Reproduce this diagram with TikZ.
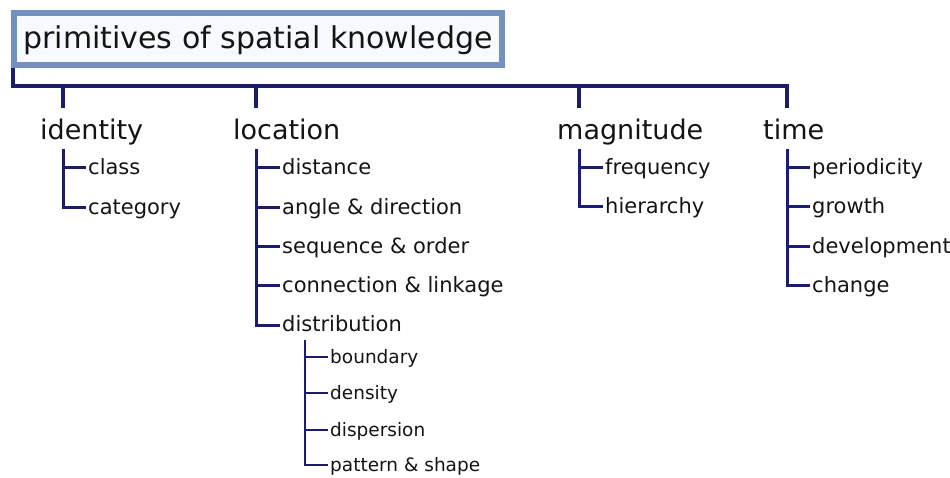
\documentclass[tikz,border=0pt]{standalone}
\usepackage{fontspec}
\setmainfont{DejaVu Sans}
\begin{document}
\definecolor{boxblue}{RGB}{115,145,190}
\definecolor{boxfill}{RGB}{246,249,253}
\definecolor{navy}{RGB}{28,28,104}
\definecolor{ink}{RGB}{20,20,20}
\tikzset{
  titlebox/.style={draw=boxblue, fill=boxfill, line width=6pt, inner sep=0pt,
    minimum width=488pt, minimum height=52pt, text height=25pt, text depth=5pt,
    font=\fontsize{30}{30}\selectfont, text=ink},
  cat/.style={anchor=base west, inner sep=0pt, font=\fontsize{27}{27}\selectfont, text=ink},
  leaf/.style={anchor=west, inner sep=0pt, text height=13.5pt, text depth=0pt,
    font=\fontsize{21}{21}\selectfont, text=ink},
  leafsm/.style={leaf, text height=12pt, font=\fontsize{18.5}{18.5}\selectfont},
  trunk/.style={draw=navy, line width=3.6pt, line join=miter},
  branch/.style={draw=navy, line width=3pt, line join=miter},
  twig/.style={draw=navy, line width=2.8pt, line join=miter}
}
\begin{tikzpicture}[x=1pt, y=-1pt]
\useasboundingbox (0,0) rectangle (950,478);

% root
\node[titlebox] (title) at (258,39) {primitives of spatial knowledge};

% categories
\node[cat] (identity)  at (40,140)  {identity};
\node[cat] (location)  at (233,140) {location};
\node[cat] (magnitude) at (557,140) {magnitude};
\node[cat] (time)      at (763,140) {time};

% tick tops on the main bar
\coordinate (bar)   at (13,86);
\coordinate (idtop) at (63,108);
\coordinate (lotop) at (256,108);
\coordinate (mgtop) at (579,108);
\coordinate (tmtop) at (787,108);

\draw[trunk] ([xshift=2pt]title.south west) |- (tmtop |- bar) -- (tmtop);
\draw[trunk] (idtop |- bar) -- (idtop);
\draw[trunk] (lotop |- bar) -- (lotop);
\draw[trunk] (mgtop |- bar) -- (mgtop);

% identity
\node[leaf] (class)    at (88,168) {class};
\node[leaf] (category) at (88,208) {category};
\coordinate (idstem) at (63,149);
\draw[branch] (idstem) |- ([xshift=-2pt]category.west);
\draw[branch] (idstem |- class.west) -- ([xshift=-2pt]class.west);

% location
\node[leaf] (distance)     at (282,168) {distance};
\node[leaf] (angle)        at (282,208) {angle \& direction};
\node[leaf] (sequence)     at (282,247) {sequence \& order};
\node[leaf] (connection)   at (282,286) {connection \& linkage};
\node[leaf] (distribution) at (282,325) {distribution};
\coordinate (lostem) at (256,149);
\draw[branch] (lostem) |- ([xshift=-2pt]distribution.west);
\foreach \n in {distance,angle,sequence,connection}
  \draw[branch] (lostem |- \n.west) -- ([xshift=-2pt]\n.west);

% distribution
\node[leafsm] (boundary)   at (330,357) {boundary};
\node[leafsm] (density)    at (330,393) {density};
\node[leafsm] (dispersion) at (330,430) {dispersion};
\node[leafsm] (pattern)    at (330,465) {pattern \& shape};
\coordinate (dsstem) at (305,340);
\draw[twig] (dsstem) |- ([xshift=-2pt]pattern.west);
\foreach \n in {boundary,density,dispersion}
  \draw[twig] (dsstem |- \n.west) -- ([xshift=-2pt]\n.west);

% magnitude
\node[leaf] (frequency) at (605,168) {frequency};
\node[leaf] (hierarchy) at (605,207) {hierarchy};
\coordinate (mgstem) at (579,149);
\draw[branch] (mgstem) |- ([xshift=-2pt]hierarchy.west);
\draw[branch] (mgstem |- frequency.west) -- ([xshift=-2pt]frequency.west);

% time
\node[leaf] (periodicity) at (812,168) {periodicity};
\node[leaf] (growth)      at (812,207) {growth};
\node[leaf] (development) at (812,247) {development};
\node[leaf] (change)      at (812,286) {change};
\coordinate (tmstem) at (787,149);
\draw[branch] (tmstem) |- ([xshift=-2pt]change.west);
\foreach \n in {periodicity,growth,development}
  \draw[branch] (tmstem |- \n.west) -- ([xshift=-2pt]\n.west);
\end{tikzpicture}
\end{document}
